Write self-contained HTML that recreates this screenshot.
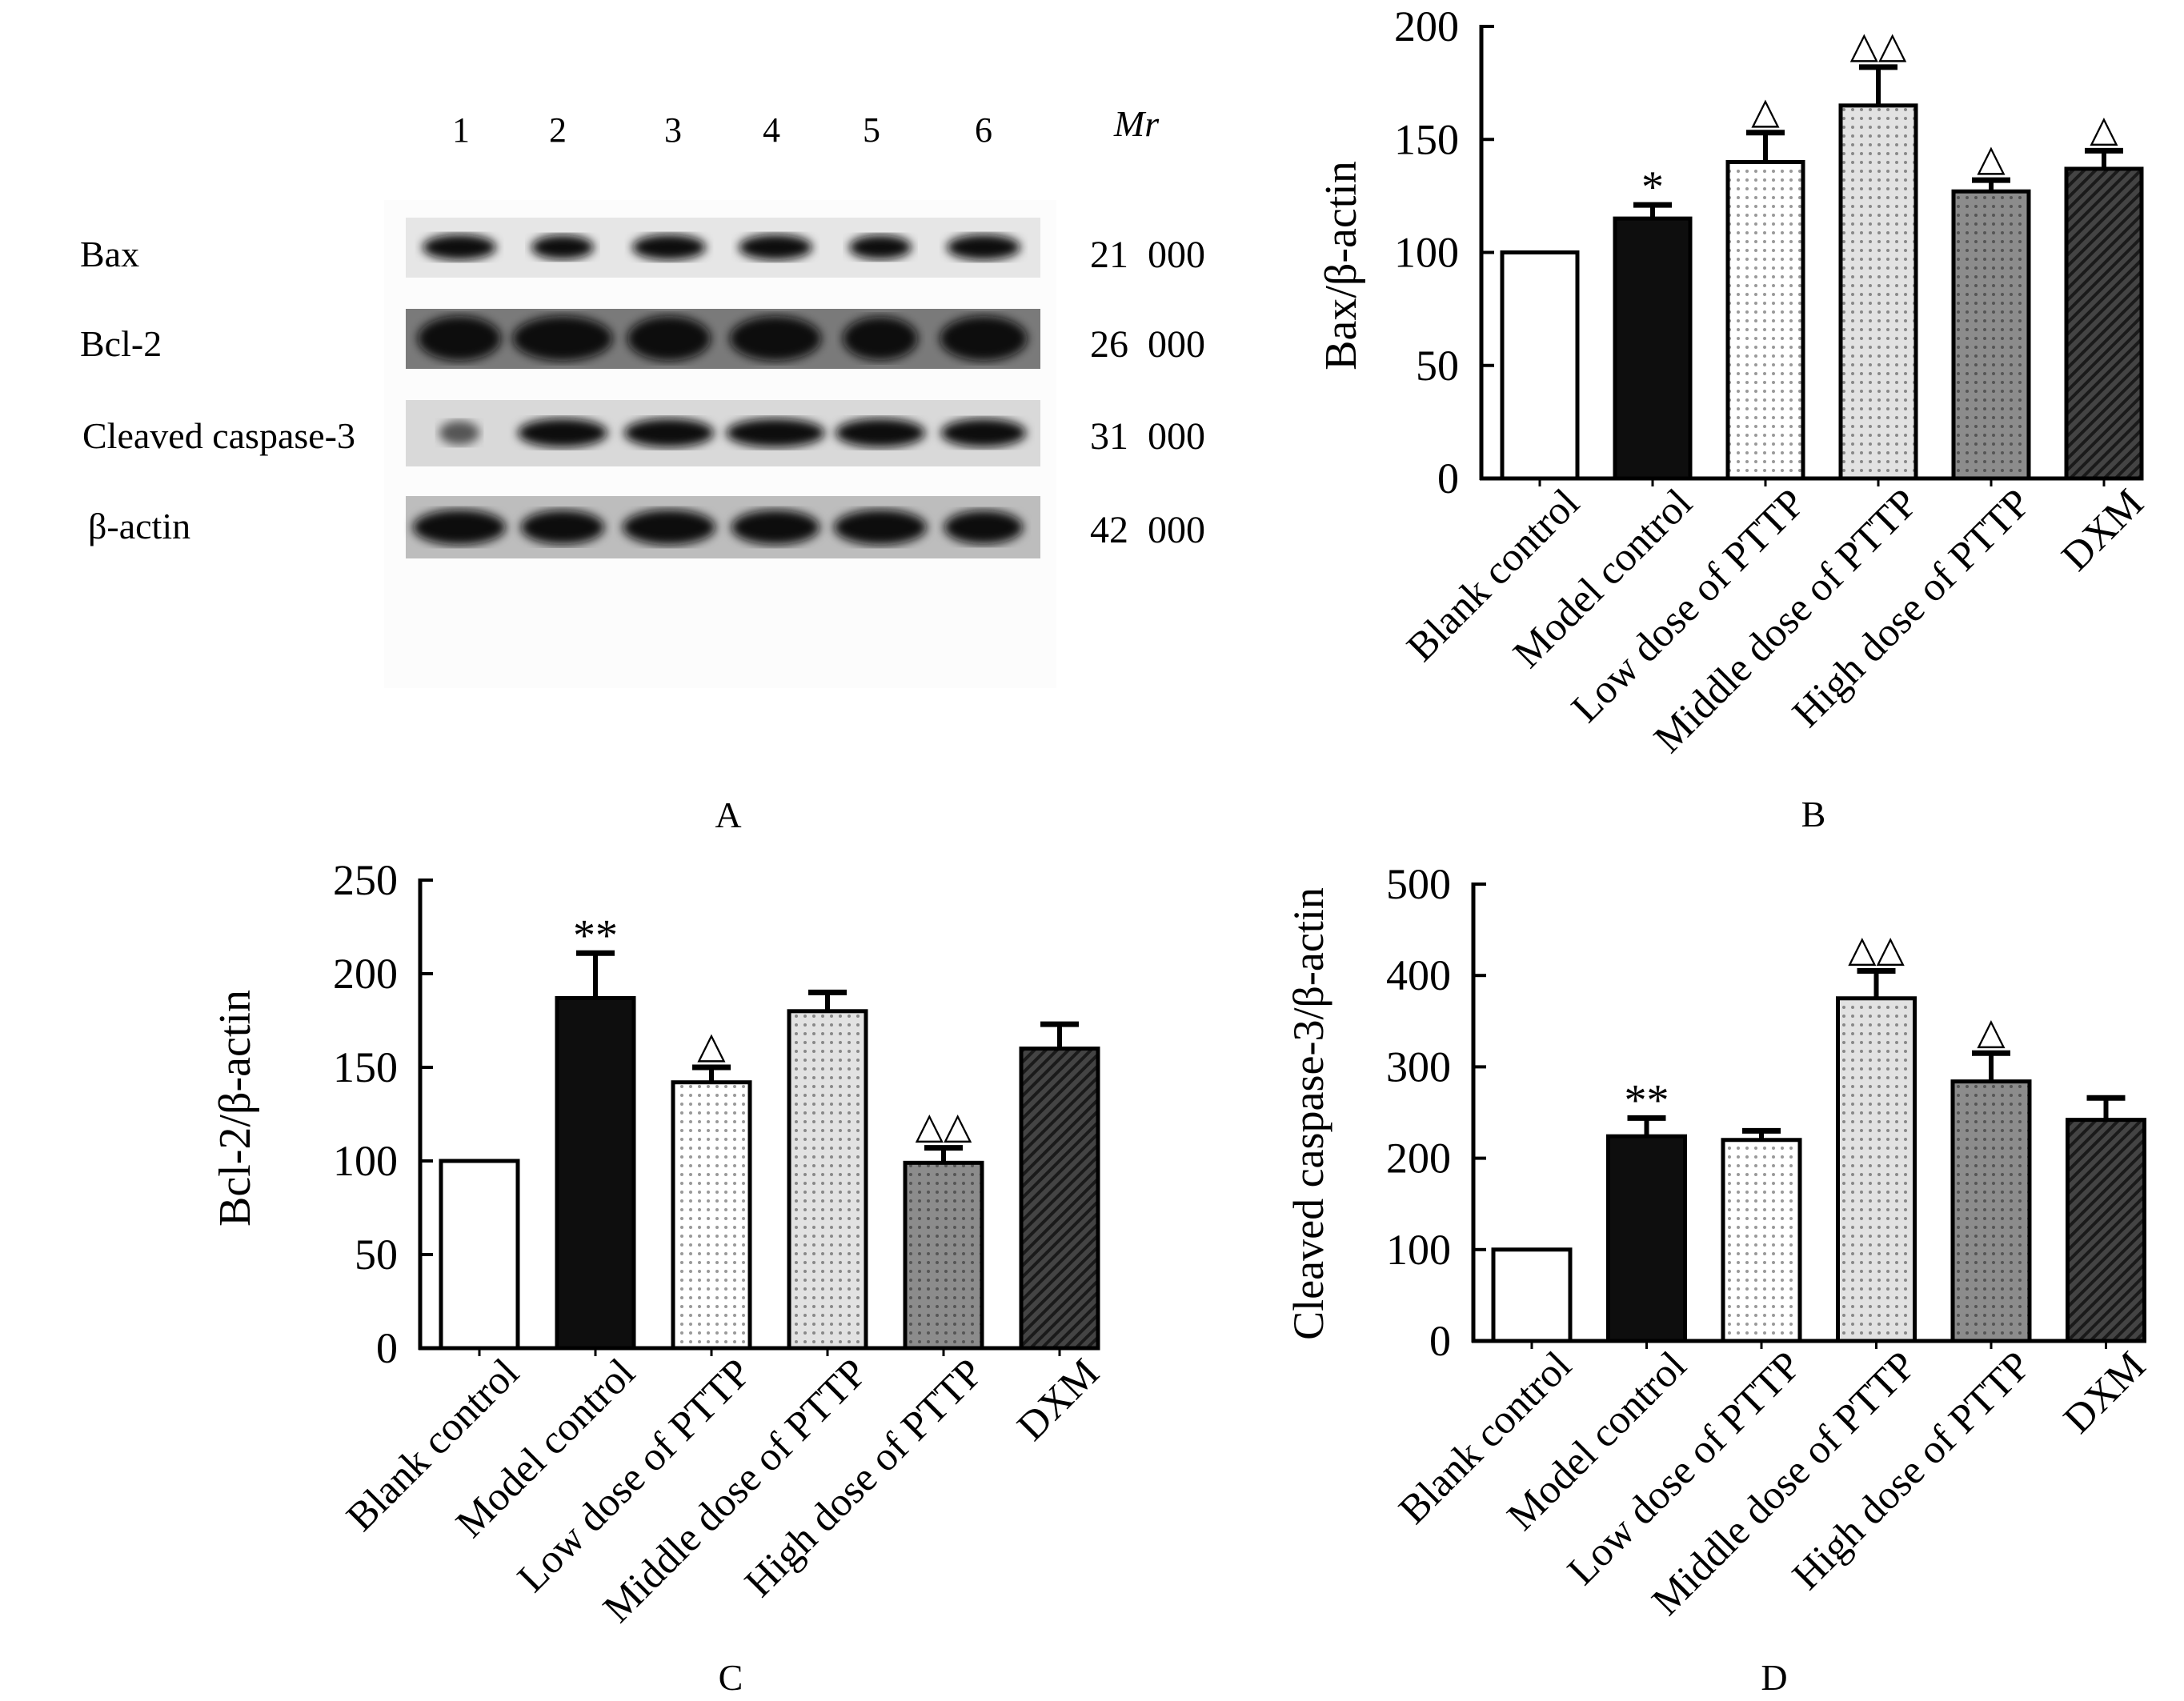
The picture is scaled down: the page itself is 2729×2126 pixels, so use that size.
<!DOCTYPE html>
<html><head><meta charset="utf-8">
<style>
html,body{margin:0;padding:0;background:#fff;}
svg{display:block;font-family:"Liberation Serif",serif;}
</style></head>
<body>
<svg id="fig" width="2729" height="2126" viewBox="0 0 2729 2126" xmlns="http://www.w3.org/2000/svg">
<defs>
<pattern id="dotsW" width="11" height="11" patternUnits="userSpaceOnUse"><rect width="11" height="11" fill="#fff"/><circle cx="5" cy="5" r="2" fill="#999"/></pattern>
<pattern id="dotsL" width="11" height="11" patternUnits="userSpaceOnUse"><rect width="11" height="11" fill="#e2e2e2"/><circle cx="5" cy="5" r="2" fill="#888"/></pattern>
<pattern id="dotsG" width="11" height="11" patternUnits="userSpaceOnUse"><rect width="11" height="11" fill="#8c8c8c"/><circle cx="5" cy="5" r="2" fill="#555"/></pattern>
<pattern id="stripe" width="10" height="10" patternUnits="userSpaceOnUse" patternTransform="rotate(45)"><rect width="10" height="10" fill="#444"/><rect width="4" height="10" fill="#1a1a1a"/></pattern>
<filter id="blur"><feGaussianBlur stdDeviation="6"/></filter>
</defs>

<g>
  <rect x="480" y="250" width="840" height="610" fill="#fcfcfc"/>
  <g font-size="44" text-anchor="middle">
    <text x="576" y="177">1</text><text x="697" y="177">2</text><text x="841" y="177">3</text>
    <text x="964" y="177">4</text><text x="1089" y="177">5</text><text x="1229" y="177">6</text>
  </g>
  <text x="1420" y="170" font-size="46" font-style="italic" text-anchor="middle">Mr</text>
  <g font-size="46">
    <text x="100" y="333">Bax</text>
    <text x="100" y="445">Bcl-2</text>
    <text x="103" y="560">Cleaved caspase-3</text>
    <text x="110" y="673">β-actin</text>
  </g>
  <g font-size="48">
    <text x="1362" y="334" xml:space="preserve">21  000</text>
    <text x="1362" y="446" xml:space="preserve">26  000</text>
    <text x="1362" y="561" xml:space="preserve">31  000</text>
    <text x="1362" y="678" xml:space="preserve">42  000</text>
  </g>
  <rect x="507" y="272" width="793" height="75" fill="#e6e6e6"/>
  <rect x="507" y="386" width="793" height="75" fill="#7a7a7a"/>
  <rect x="507" y="500" width="793" height="83" fill="#d9d9d9"/>
  <rect x="507" y="620" width="793" height="78" fill="#bdbdbd"/>
  <g id="bands"></g>
</g>
<text x="910" y="1034" font-size="46" text-anchor="middle">A</text>

<g id="chartB"></g>
<g id="chartC"></g>
<g id="chartD"></g>
</svg>

<script>
const categories = ["Blank control","Model  control","Low dose of PTTP","Middle dose of PTTP","High dose of PTTP","DXM"];
const baxValues = [100,115,140,165,127,137];
const baxErrors = [0,6,13,17,5,8];
const baxMarks = ["","*","△","△△","△","△"];
const baxTicks = [0,50,100,150,200];
const bcl2Values = [100,187,142,180,99,160];
const bcl2Errors = [0,24,8,10,8,13];
const bcl2Marks = ["","**","△","","△△",""];
const bcl2Ticks = [0,50,100,150,200,250];
const caspValues = [100,224,220,375,284,242];
const caspErrors = [0,20,10,30,31,24];
const caspMarks = ["","**","","△△","△",""];
const caspTicks = [0,100,200,300,400,500];
const laneBands = {
  bax:[1,0.85,1,1,0.85,1],
  bcl2:[1,1.2,1,1.1,0.9,1.05],
  casp:[0.45,1,1,1.1,1,0.95],
  actin:[1,0.9,1,0.95,1,0.85]
};
const fills = ["#fff","#0e0e0e","url(#dotsW)","url(#dotsL)","url(#dotsG)","url(#stripe)"];
const NS="http://www.w3.org/2000/svg";
function mk(parent,tag,attrs,text){const e=document.createElementNS(NS,tag);for(const k in attrs)e.setAttribute(k,attrs[k]);if(text!==undefined)e.textContent=text;parent.appendChild(e);return e;}

(function(){
  const g=document.getElementById('bands');
  const lanes=[574,703,836,969,1100,1229];
  const rows=[["bax",309,32,46],["bcl2",423,56,52],["casp",541,36,56],["actin",659,44,58]];
  rows.forEach(r=>{
    laneBands[r[0]].forEach((v,i)=>{
      const e=mk(g,'ellipse',{cx:lanes[i],cy:r[1],rx:r[3]*v,ry:r[2]/2*Math.min(1,0.7+v*0.3),fill:v<0.6?'#555':'#0a0a0a',filter:'url(#blur)'});
      
      
    });
  });
})();

function drawChart(id,cfg,values,errors,marks,ticks){
  const g=document.getElementById(id);
  const maxV=ticks[ticks.length-1];
  const y=v=>cfg.y0-(v/maxV)*(cfg.y0-cfg.yTop);
  const x=i=>cfg.x0+cfg.first+i*cfg.step;
  const bw=cfg.bw;
  values.forEach((v,i)=>{
    const r=mk(g,'rect',{x:x(i)-bw/2,y:y(v),width:bw,height:cfg.y0-y(v),fill:fills[i],stroke:'#000','stroke-width':5});
    
    
    if(errors[i]>0){
      const et=y(v+errors[i]);
      const l=mk(g,'line',{x1:x(i),x2:x(i),y1:y(v),y2:et,stroke:'#000','stroke-width':6});
      
      
      const c=mk(g,'line',{x1:x(i)-24,x2:x(i)+24,y1:et,y2:et,stroke:'#000','stroke-width':7});
      
      
    }
    if(marks[i]){
      const top=y(v+errors[i]);
      const star=marks[i].indexOf('*')>=0;
      const t=mk(g,'text',{x:x(i),y:top-(star?4:12),'font-size':star?56:46,'text-anchor':'middle'},marks[i]);
      
      
    }
    const tk=mk(g,'line',{x1:x(i),x2:x(i),y1:cfg.y0,y2:cfg.y0+10,stroke:'#000','stroke-width':3});
    
    
    const lx=x(i)+52, ly=cfg.y0+34;
    const lb=mk(g,'text',{x:lx,y:ly,'font-size':51,'text-anchor':'end',transform:'rotate(-45 '+lx+' '+ly+')'},categories[i]);
    
    
  });
  const ya=mk(g,'line',{x1:cfg.x0,x2:cfg.x0,y1:cfg.yTop-2,y2:cfg.y0+2,stroke:'#000','stroke-width':5});
  
  
  const xa=mk(g,'line',{x1:cfg.x0-2,x2:cfg.xEnd,y1:cfg.y0,y2:cfg.y0,stroke:'#000','stroke-width':5});
  
  
  ticks.forEach(t=>{
    const l=mk(g,'line',{x1:cfg.x0,x2:cfg.x0+16,y1:y(t),y2:y(t),stroke:'#000','stroke-width':4});
    
    
    const tx=mk(g,'text',{x:cfg.x0-28,y:y(t)+18,'font-size':54,'text-anchor':'end'},String(t));
    
    
  });
  const yt=mk(g,'text',{x:cfg.titleX,y:cfg.titleY,'font-size':cfg.titleSize,'text-anchor':'middle',transform:'rotate(-90 '+cfg.titleX+' '+cfg.titleY+')'},cfg.title);
  
  
  const pl=mk(g,'text',{x:cfg.labX,y:cfg.labY,'font-size':46,'text-anchor':'middle'},cfg.label);
  
  
}

drawChart('chartB',{x0:1851,y0:598,yTop:33,xEnd:2672,first:73,step:141,bw:94,title:'Bax/β-actin',titleSize:56,titleX:1694,titleY:332,label:'B',labX:2266,labY:1033},baxValues,baxErrors,baxMarks,baxTicks);
drawChart('chartC',{x0:525,y0:1685,yTop:1100,xEnd:1290,first:74,step:145,bw:96,title:'Bcl-2/β-actin',titleSize:56,titleX:312,titleY:1385,label:'C',labX:913,labY:2112},bcl2Values,bcl2Errors,bcl2Marks,bcl2Ticks);
drawChart('chartD',{x0:1841,y0:1676,yTop:1105,xEnd:2682,first:73,step:143.5,bw:96,title:'Cleaved caspase-3/β-actin',titleSize:54,titleX:1653,titleY:1392,label:'D',labX:2217,labY:2112},caspValues,caspErrors,caspMarks,caspTicks);
</script>
</body></html>
